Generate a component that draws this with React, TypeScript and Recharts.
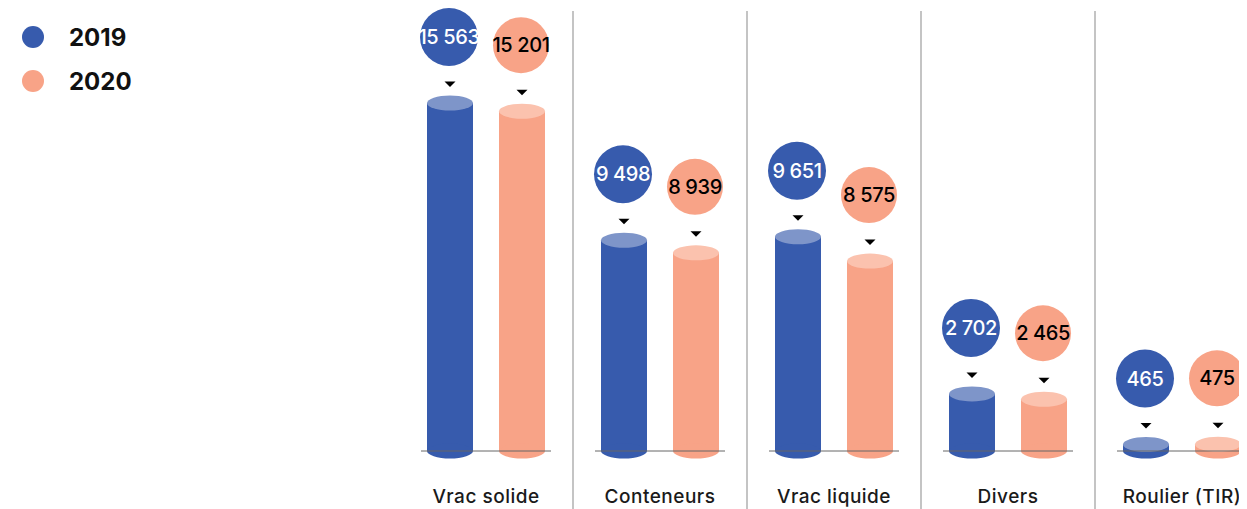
import { BarChart, Bar, XAxis, YAxis } from "recharts";

const categories = ["Vrac solide", "Conteneurs", "Vrac liquide", "Divers", "Roulier (TIR)"];
const values2019 = [15563, 9498, 9651, 2702, 465];
const values2020 = [15201, 8939, 8575, 2465, 475];
const seriesNames = ["2019", "2020"];

const data = categories.map((name, i) => ({
  name,
  y2019: values2019[i],
  y2020: values2020[i],
}));

const BLUE = "#375BAD";
const BLUE_TOP = "#7E95C9";
const SALMON = "#F8A387";
const SALMON_TOP = "#FBC2AE";
const FONT = "Inter, 'Noto Sans', sans-serif";

const fmt = (v: number) => String(v).replace(/\B(?=(\d{3})+(?!\d))/g, " ");

function Cylinder(props: any) {
  const { x, y, width, height, payload, dataKey, side, top, textColor, radius } = props;
  const cx = x + width / 2;
  const rx = width / 2;
  const ry = 7.5;
  const bottom = y + height - 4;
  const value = payload[dataKey];
  const bubbleY = y - 66;
  return (
    <g>
      <rect x={x} y={y} width={width} height={Math.max(0, bottom - y)} fill={side} />
      <ellipse cx={cx} cy={bottom} rx={rx} ry={ry} fill={side} />
      <ellipse cx={cx} cy={y} rx={rx} ry={ry} fill={top} />
      <path d={`M${cx - 5.5},${y - 21.5} L${cx + 5.5},${y - 21.5} L${cx},${y - 16} Z`} fill="#000" />
      <circle cx={cx - 1} cy={bubbleY} r={radius} fill={side} />
      <text
        x={cx - 1}
        y={bubbleY}
        dy="0.36em"
        textAnchor="middle"
        fill={textColor}
        fontFamily={FONT}
        fontWeight={500}
        fontSize={20}
        letterSpacing={-0.4}
      >
        {fmt(value)}
      </text>
    </g>
  );
}

function CategoryTick(props: any) {
  const { x, y, payload, index } = props;
  const base = y - 4;
  return (
    <g>
      <line x1={x - 65} x2={x + 65} y1={base} y2={base} stroke="#666" strokeWidth={1} />
      {index > 0 && (
        <line x1={x - 87} x2={x - 87} y1={3} y2={510} stroke="#C4C4C4" strokeWidth={2} />
      )}
      <text
        x={x}
        y={y + 48}
        textAnchor="middle"
        fill="#1a1a1a"
        fontFamily={FONT}
        fontWeight={500}
        fontSize={19}
        letterSpacing={0.5}
      >
        {payload.value}
      </text>
    </g>
  );
}

function LegendBox() {
  const colors = [BLUE, SALMON];
  return (
    <div style={{ position: "absolute", left: 0, top: 0, fontFamily: FONT }}>
      {seriesNames.map((n, i) => (
        <div
          key={n}
          style={{ display: "flex", alignItems: "center", height: 44, marginTop: i === 0 ? 7 : 0 }}
        >
          <span
            style={{
              display: "inline-block",
              width: 22,
              height: 22,
              borderRadius: "50%",
              background: colors[i],
              marginLeft: 14,
            }}
          />
          <span style={{ marginLeft: 25, fontSize: 24, fontWeight: 700, color: "#111" }}>{n}</span>
        </div>
      ))}
    </div>
  );
}

export default function App() {
  return (
    <div style={{ width: 1239, height: 501, overflow: "hidden", position: "relative" }}>
      <LegendBox />
      <BarChart
        width={1261}
        height={501}
        data={data}
        margin={{ top: 6, right: 0, bottom: 0, left: 391 }}
        barSize={46}
        barGap={26}
      >
        <YAxis hide domain={[0, 19500]} />
        <XAxis
          dataKey="name"
          height={54}
          axisLine={false}
          tickLine={false}
          tickSize={0}
          tickMargin={0}
          interval={0}
          tick={<CategoryTick />}
        />
        <Bar
          dataKey="y2019"
          name={seriesNames[0]}
          fill={BLUE}
          isAnimationActive={false}
          shape={(p: any) => (
            <Cylinder {...p} dataKey="y2019" side={BLUE} top={BLUE_TOP} textColor="#fff" radius={29} />
          )}
        />
        <Bar
          dataKey="y2020"
          name={seriesNames[1]}
          fill={SALMON}
          isAnimationActive={false}
          shape={(p: any) => (
            <Cylinder {...p} dataKey="y2020" side={SALMON} top={SALMON_TOP} textColor="#000" radius={28} />
          )}
        />
      </BarChart>
    </div>
  );
}
